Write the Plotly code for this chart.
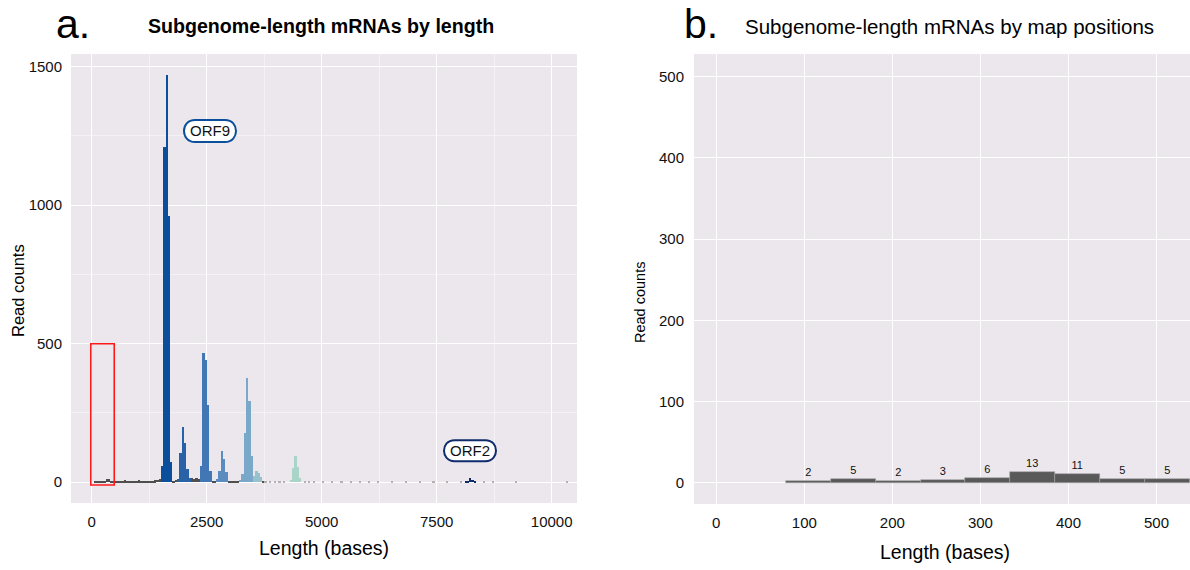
import plotly.graph_objects as go

# ---- Panel a: read-length histogram (bin width 50 bases), one series per sgRNA group ----
BIN_W = 50

orf9_len = [1530, 1580, 1630, 1680, 1730]
orf9_cnt = [58, 1209, 1470, 961, 72]

orf8_len = [1880, 1930, 1980, 2030, 2080, 2130]
orf8_cnt = [10, 107, 200, 143, 49, 15]

orf7_len = [2380, 2430, 2480, 2530, 2580]
orf7_cnt = [59, 467, 441, 278, 41]

orf6_len = [2730, 2780, 2830, 2880, 2930]
orf6_cnt = [10, 41, 113, 83, 37]

m_len = [3230, 3280, 3330, 3380, 3430, 3480]
m_cnt = [8, 29, 176, 377, 294, 94]

e_len = [3530, 3580, 3630, 3680]
e_cnt = [22, 42, 35, 20]

orf3_len = [4330, 4380, 4430, 4480, 4530]
orf3_cnt = [8, 53, 95, 55, 17]

orf2_len = [8130, 8180, 8230, 8280, 8330]
orf2_cnt = [3, 6, 15, 8, 3]

other_len = [80, 130, 180, 230, 280, 330, 380, 430, 480, 530, 580, 630, 680, 730,
             780, 830, 880, 930, 980, 1030, 1080, 1130, 1180, 1230, 1280, 1330,
             1380, 1430, 1480, 1780, 1830, 2180, 2230, 2280, 2330, 2630, 2680,
             2980, 3030, 3080, 3130, 3180, 3730]
other_cnt = [2, 5, 2, 3, 6, 13, 11, 5, 5, 4, 3, 5, 4, 7,
             3, 4, 6, 5, 4, 7, 5, 6, 5, 6, 5, 6,
             7, 8, 10, 6, 8, 14, 12, 15, 13, 6, 5,
             4, 5, 3, 5, 4, 3]

tail_len = [3780, 3880, 3980, 4080, 4180, 4630, 4730, 4830, 5030, 5230, 5430,
            5630, 5830, 6030, 6230, 6530, 6830, 7130, 7430, 7730, 8030, 8530,
            8730, 9230, 10330]
tail_cnt = [2, 1, 2, 1, 2, 1, 2, 1, 1, 2, 1, 1, 2, 1, 1, 1, 2, 1, 1, 1, 2, 1, 1, 1, 1]

groups = [
    ("other", other_len, other_cnt, "#4f4f4f"),
    ("tail", tail_len, tail_cnt, "#b4b0b4"),
    ("ORF9", orf9_len, orf9_cnt, "#0b4f9c"),
    ("ORF8", orf8_len, orf8_cnt, "#2a62a8"),
    ("ORF7", orf7_len, orf7_cnt, "#4177b4"),
    ("ORF6", orf6_len, orf6_cnt, "#5b8cc0"),
    ("M", m_len, m_cnt, "#79a8c9"),
    ("E", e_len, e_cnt, "#98c2cb"),
    ("ORF3", orf3_len, orf3_cnt, "#a9d4c7"),
    ("ORF2", orf2_len, orf2_cnt, "#0f2c6c"),
]

len_ticks = [0, 2500, 5000, 7500, 10000]
len_tick_text = ["0", "2500", "5000", "7500", "10000"]
count_ticks_a = [0, 500, 1000, 1500]

# ---- Panel b: map-position histogram (bin width 51) ----
pos_bin_left = [79, 130, 181, 232, 283, 334, 385, 436, 487]
pos_bin_w = 51
pos_cnt = [2, 5, 2, 3, 6, 13, 11, 5, 5]
pos_ticks = [0, 100, 200, 300, 400, 500]
count_ticks_b = [0, 100, 200, 300, 400, 500]

BG = "#ece7ec"
FONT = "Liberation Sans, Arial, Helvetica, sans-serif"

fig = go.Figure()

for name, xs, ys, col in groups:
    fig.add_trace(go.Bar(
        x=xs, y=ys, width=BIN_W, name=name,
        marker=dict(color=col, line=dict(width=0)),
        xaxis="x", yaxis="y", showlegend=False,
    ))

pos_centers = [l + pos_bin_w / 2 for l in pos_bin_left]
fig.add_trace(go.Bar(
    x=pos_centers, y=pos_cnt, width=pos_bin_w,
    marker=dict(color="#595959", line=dict(color="#a3a3a3", width=0.6)),
    text=[str(v) for v in pos_cnt], textposition="outside",
    textfont=dict(size=11, color="#111111", family=FONT),
    cliponaxis=False, xaxis="x2", yaxis="y2", showlegend=False,
))

W, H = 1190, 570


def px_x(p):
    return p / W


def px_y(p):
    return 1 - p / H


grid_major = dict(showgrid=True, gridcolor="#ffffff", gridwidth=1.2)
tickfont = dict(size=15, color="#111111", family=FONT)

fig.update_layout(
    width=W, height=H,
    margin=dict(l=0, r=0, t=0, b=0),
    paper_bgcolor="white",
    plot_bgcolor=BG,
    bargap=0,
    font=dict(family=FONT, color="#111111"),
    xaxis=dict(
        domain=[px_x(71), px_x(577)], range=[-450, 10550],
        tickvals=len_ticks, ticktext=len_tick_text, tickfont=tickfont,
        ticks="", ticklabelstandoff=8, zeroline=False, **grid_major,
        minor=dict(tickvals=[1250, 3750, 6250, 8750], showgrid=True,
                   gridcolor="#f5f2f5", gridwidth=0.7),
        anchor="y",
    ),
    yaxis=dict(
        domain=[px_y(503), px_y(54)], range=[-75, 1546],
        tickvals=count_ticks_a, tickfont=tickfont,
        ticks="", ticklabelstandoff=8, zeroline=False, **grid_major,
        minor=dict(tickvals=[250, 750, 1250], showgrid=True,
                   gridcolor="#f5f2f5", gridwidth=0.7),
        anchor="x",
    ),
    xaxis2=dict(
        domain=[px_x(694), 1.0], range=[-25.3, 538],
        tickvals=pos_ticks, tickfont=tickfont,
        ticks="", ticklabelstandoff=8, zeroline=False, **grid_major,
        anchor="y2",
    ),
    yaxis2=dict(
        domain=[px_y(504), px_y(54)], range=[-26, 528],
        tickvals=count_ticks_b, tickfont=tickfont,
        ticks="", ticklabelstandoff=9, zeroline=False, **grid_major,
        anchor="x2",
    ),
)

# Highlight box for the short-length region shown in panel b
fig.add_shape(type="rect", xref="x", yref="y", x0=-20, x1=490, y0=-10, y1=500,
              line=dict(color="#ff1a1a", width=1.6), fillcolor="rgba(0,0,0,0)")


def pill(xc, yc, w, h, color):
    r = h / 2
    a = w / 2 - r
    k = r * 4 / 3
    path = (f"M {-a},{-r} L {a},{-r} C {a + k},{-r} {a + k},{r} {a},{r} "
            f"L {-a},{r} C {-a - k},{r} {-a - k},{-r} {-a},{-r} Z")
    fig.add_shape(type="path", xref="x", yref="y", xsizemode="pixel",
                  ysizemode="pixel", xanchor=xc, yanchor=yc, path=path,
                  fillcolor="white", line=dict(color=color, width=2))


pill(2572, 1268, 52, 22, "#0b4f9c")
pill(8224, 114, 52, 21, "#0f2c6c")

ann = []
ann.append(dict(x=2572, y=1268, xref="x", yref="y", text="ORF9", showarrow=False,
                font=dict(size=15, color="#111111", family=FONT)))
ann.append(dict(x=8224, y=114, xref="x", yref="y", text="ORF2", showarrow=False,
                font=dict(size=15, color="#111111", family=FONT)))

# Panel letters and titles
ann.append(dict(x=px_x(54), y=px_y(23.5), xref="paper", yref="paper", text="a.",
                showarrow=False, xanchor="left", yanchor="middle",
                font=dict(size=41, color="#000000", family=FONT)))
ann.append(dict(x=px_x(682), y=px_y(23.5), xref="paper", yref="paper", text="b.",
                showarrow=False, xanchor="left", yanchor="middle",
                font=dict(size=41, color="#000000", family=FONT)))
ann.append(dict(x=px_x(321), y=px_y(26), xref="paper", yref="paper",
                text="<b>Subgenome-length mRNAs by length</b>", showarrow=False,
                xanchor="center", yanchor="middle",
                font=dict(size=19.6, color="#000000", family=FONT)))
ann.append(dict(x=px_x(949), y=px_y(26), xref="paper", yref="paper",
                text="Subgenome-length mRNAs by map positions", showarrow=False,
                xanchor="center", yanchor="middle",
                font=dict(size=20.5, color="#000000", family=FONT)))

# Axis titles
ann.append(dict(x=px_x(324), y=px_y(548), xref="paper", yref="paper",
                text="Length (bases)", showarrow=False, xanchor="center",
                yanchor="middle", font=dict(size=19.5, color="#000000", family=FONT)))
ann.append(dict(x=px_x(945), y=px_y(552), xref="paper", yref="paper",
                text="Length (bases)", showarrow=False, xanchor="center",
                yanchor="middle", font=dict(size=19.5, color="#000000", family=FONT)))
ann.append(dict(x=px_x(18), y=px_y(291), xref="paper", yref="paper",
                text="Read counts", showarrow=False, textangle=-90,
                xanchor="center", yanchor="middle",
                font=dict(size=16.5, color="#000000", family=FONT)))
ann.append(dict(x=px_x(640), y=px_y(303), xref="paper", yref="paper",
                text="Read counts", showarrow=False, textangle=-90,
                xanchor="center", yanchor="middle",
                font=dict(size=14.5, color="#000000", family=FONT)))

fig.update_layout(annotations=ann)

fig.write_html("out.html")
